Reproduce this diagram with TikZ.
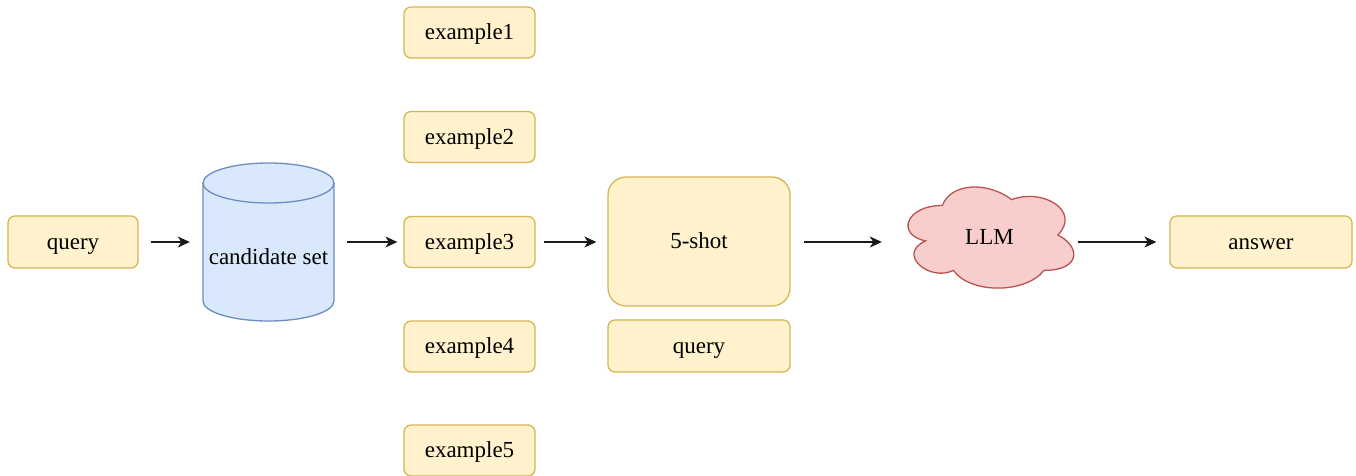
\documentclass[tikz,border=0pt]{standalone}
\usepackage{fontspec}
\setmainfont{Liberation Serif}
\usetikzlibrary{arrows.meta}
\definecolor{yfill}{HTML}{FFF2CC}
\definecolor{ydraw}{HTML}{D6B656}
\definecolor{bfill}{HTML}{DAE8FC}
\definecolor{bdraw}{HTML}{6C8EBF}
\definecolor{rfill}{HTML}{F8CECC}
\definecolor{rdraw}{HTML}{B85450}
\definecolor{arr}{HTML}{1A1A1A}
\tikzset{
  ybox/.style={draw=ydraw, fill=yfill, line width=1.3pt, rounded corners=7pt,
    minimum width=131pt, minimum height=51pt, inner sep=0pt,
    text height=19pt, text depth=5pt,
    font=\fontsize{23}{27}\selectfont},
  widebox/.style={ybox, minimum width=182pt, minimum height=52pt},
  shotbox/.style={ybox, minimum width=182pt, minimum height=129pt, rounded corners=18pt},
  ghost/.style={inner sep=0pt, text height=19pt, text depth=5pt, font=\fontsize{23}{27}\selectfont},
  flow/.style={draw=arr, line width=1.3pt, -{Stealth[length=12pt,width=11pt,inset=3.5pt]}},
}
\begin{document}
\begin{tikzpicture}[x=1pt,y=1pt]
\useasboundingbox (0,0) rectangle (1356,475);
\fill[white] (0,0) rectangle (1356,475);

% query
\node[ybox, minimum width=130pt, minimum height=52pt] (q) at (73,233) {query};

% cylinder
\fill[bfill] (203,292) -- (203,174) arc[start angle=180,end angle=360,x radius=65.5,y radius=20]
  -- (334,292) arc[start angle=0,end angle=180,x radius=65.5,y radius=20] -- cycle;
\draw[bdraw, line width=1.3pt] (203,292) -- (203,174) arc[start angle=180,end angle=360,x radius=65.5,y radius=20]
  -- (334,292);
\draw[bdraw, line width=1.3pt] (268.5,292) ellipse[x radius=65.5,y radius=20];
\node[ghost, minimum width=131pt, minimum height=158pt] (cand) at (268.5,233) {\raisebox{-15pt}{candidate set}};

% examples
\node[ybox] (e1) at (469.5,442.5) {example1};
\node[ybox] (e2) at (469.5,338) {example2};
\node[ybox] (e3) at (469.5,233) {example3};
\node[ybox] (e4) at (469.5,128.5) {example4};
\node[ybox] (e5) at (469.5,24.5) {example5};

% 5-shot and query
\node[shotbox] (shot) at (699,233.5) {5-shot};
\node[widebox] (q2) at (699,129) {query};

% cloud (cell x 896..1080, y 181..299)
\def\cx{896}\def\cy{299}\def\cw{185}\def\ch{118}
\filldraw[fill=rfill, draw=rdraw, line width=1.3pt]
  ({\cx+0.25*\cw},{\cy-0.25*\ch})
  .. controls ({\cx+0.05*\cw},{\cy-0.25*\ch}) and ({\cx},{\cy-0.5*\ch}) .. ({\cx+0.16*\cw},{\cy-0.55*\ch})
  .. controls ({\cx},{\cy-0.66*\ch}) and ({\cx+0.18*\cw},{\cy-0.9*\ch}) .. ({\cx+0.31*\cw},{\cy-0.8*\ch})
  .. controls ({\cx+0.4*\cw},{\cy-\ch}) and ({\cx+0.7*\cw},{\cy-\ch}) .. ({\cx+0.8*\cw},{\cy-0.8*\ch})
  .. controls ({\cx+\cw},{\cy-0.8*\ch}) and ({\cx+\cw},{\cy-0.6*\ch}) .. ({\cx+0.875*\cw},{\cy-0.5*\ch})
  .. controls ({\cx+\cw},{\cy-0.3*\ch}) and ({\cx+0.8*\cw},{\cy-0.1*\ch}) .. ({\cx+0.625*\cw},{\cy-0.2*\ch})
  .. controls ({\cx+0.5*\cw},{\cy-0.05*\ch}) and ({\cx+0.3*\cw},{\cy-0.05*\ch}) .. ({\cx+0.25*\cw},{\cy-0.25*\ch})
  -- cycle;
\node[ghost, minimum width=165pt, minimum height=100pt] (llm) at (989.5,238) {LLM};

% answer
\node[widebox] (ans) at (1261,233) {answer};

% arrows
\draw[flow, shorten <=12pt, shorten >=13pt] (q.east) -- (cand.west);
\draw[flow, shorten <=13pt, shorten >=6pt] (cand.east) -- (e3.west);
\draw[flow, shorten <=8pt, shorten >=11pt] (e3.east) -- (shot.west |- e3.east);
\draw[flow, shorten <=13pt, shorten >=25pt] (shot.east |- e3.east) -- (llm.west |- e3.east);
\draw[flow, shorten <=6pt, shorten >=13pt] (llm.east |- e3.east) -- (ans.west);
\end{tikzpicture}
\end{document}
